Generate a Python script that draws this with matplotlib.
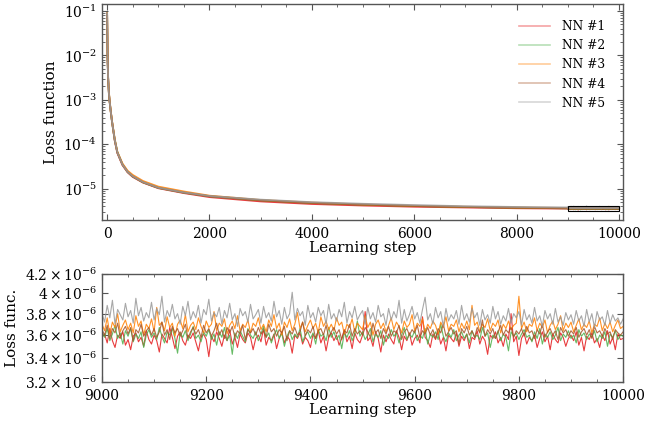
import matplotlib
matplotlib.use("Agg")
import matplotlib.pyplot as plt
import numpy as np
from matplotlib.patches import Rectangle
from matplotlib.ticker import MultipleLocator, NullLocator, LogLocator

plt.rcParams["font.family"] = ["DejaVu Serif"]
plt.rcParams["mathtext.fontset"] = "dejavuserif"

labels = ["NN #1", "NN #2", "NN #3", "NN #4", "NN #5"]
colors = ["#e41a1c", "#4daf4a", "#ff7f00", "#a65628", "#999999"]

# early training
early_steps = [0, 5, 10, 20, 35, 50, 75, 100, 150, 200, 300, 400, 500, 700,
               1000, 1500, 2000, 3000, 4000, 5000, 6000, 7000, 8000]
early_loss = [
    [0.085, 0.02, 0.008, 0.003, 0.0014, 0.0009, 0.0005, 0.0003, 1.2e-4, 6.4e-5, 3.4e-5,
     2.35e-5, 1.85e-5, 1.38e-5, 1.03e-5, 8.0e-6, 6.5e-6, 5.2e-6, 4.55e-6, 4.2e-6, 3.95e-6,
     3.8e-6, 3.65e-6],
    [0.088, 0.021, 0.008, 0.003, 0.0014, 0.0009, 0.0005, 0.0003, 1.25e-4, 6.7e-5, 3.55e-5,
     2.4e-5, 1.9e-5, 1.4e-5, 1.05e-5, 8.2e-6, 6.8e-6, 5.5e-6, 4.8e-6, 4.4e-6, 4.1e-6,
     3.9e-6, 3.75e-6],
    [0.09, 0.022, 0.0085, 0.0032, 0.0015, 0.00095, 0.00052, 0.00031, 1.3e-4, 6.8e-5, 3.7e-5,
     2.55e-5, 2.05e-5, 1.5e-5, 1.12e-5, 8.7e-6, 7.0e-6, 5.6e-6, 4.9e-6, 4.45e-6, 4.15e-6,
     3.95e-6, 3.8e-6],
    [0.087, 0.021, 0.008, 0.003, 0.0014, 0.0009, 0.0005, 0.0003, 1.22e-4, 6.5e-5, 3.5e-5,
     2.4e-5, 1.9e-5, 1.4e-5, 1.05e-5, 8.2e-6, 6.8e-6, 5.5e-6, 4.8e-6, 4.4e-6, 4.1e-6,
     3.9e-6, 3.75e-6],
    [0.089, 0.021, 0.0082, 0.0031, 0.00145, 0.00092, 0.00051, 0.0003, 1.25e-4, 6.6e-5, 3.5e-5,
     2.42e-5, 1.92e-5, 1.42e-5, 1.06e-5, 8.3e-6, 6.9e-6, 5.7e-6, 5.0e-6, 4.6e-6, 4.3e-6,
     4.05e-6, 3.9e-6],
]

# last 1000 steps, every 5 steps, in units of 1e-6
tail_steps = list(range(9000, 10001, 5))
tail_nn1 = [
    3.58, 3.61, 3.53, 3.66, 3.55, 3.49, 3.60, 3.57, 3.63, 3.51, 3.56, 3.47, 3.59, 3.62, 3.54, 3.58, 3.50, 3.64, 3.56, 3.52,
    3.60, 3.55, 3.45, 3.61, 3.57, 3.53, 3.67, 3.58, 3.48, 3.59, 3.63, 3.55, 3.51, 3.60, 3.57, 3.62, 3.54, 3.46, 3.58, 3.61,
    3.56, 3.41, 3.59, 3.54, 3.63, 3.57, 3.50, 3.60, 3.55, 3.65, 3.52, 3.58, 3.49, 3.61, 3.56, 3.53, 3.62, 3.58, 3.47, 3.57,
    3.60, 3.54, 3.66, 3.51, 3.58, 3.55, 3.61, 3.48, 3.57, 3.63, 3.53, 3.59, 3.56, 3.44, 3.60, 3.57, 3.62, 3.52, 3.58, 3.55,
    3.49, 3.61, 3.57, 3.64, 3.53, 3.59, 3.46, 3.58, 3.62, 3.55, 3.60, 3.51, 3.57, 3.65, 3.54, 3.59, 3.48, 3.62, 3.56, 3.53,
    3.60, 3.82, 3.55, 3.58, 3.50, 3.63, 3.57, 3.45, 3.60, 3.54, 3.61, 3.56, 3.52, 3.64, 3.58, 3.47, 3.59, 3.55, 3.62, 3.51,
    3.57, 3.60, 3.53, 3.77, 3.58, 3.55, 3.49, 3.61, 3.56, 3.63, 3.52, 3.58, 3.46, 3.60, 3.57, 3.54, 3.62, 3.50, 3.59, 3.55,
    3.61, 3.48, 3.58, 3.56, 3.64, 3.52, 3.59, 3.55, 3.43, 3.60, 3.57, 3.63, 3.53, 3.58, 3.50, 3.61, 3.56, 3.80, 3.54, 3.59,
    3.42, 3.57, 3.62, 3.52, 3.58, 3.55, 3.60, 3.49, 3.57, 3.63, 3.54, 3.59, 3.47, 3.61, 3.56, 3.53, 3.62, 3.58, 3.50, 3.57,
    3.60, 3.55, 3.63, 3.51, 3.58, 3.46, 3.59, 3.56, 3.62, 3.53, 3.57, 3.49, 3.60, 3.55, 3.64, 3.52, 3.58, 3.47, 3.61, 3.56,
    3.57,
]
tail_nn2 = [
    3.63, 3.58, 3.66, 3.55, 3.61, 3.69, 3.57, 3.62, 3.52, 3.64, 3.59, 3.66, 3.54, 3.61, 3.57, 3.63, 3.49, 3.60, 3.65, 3.58,
    3.62, 3.56, 3.67, 3.59, 3.53, 3.63, 3.60, 3.66, 3.57, 3.44, 3.62, 3.58, 3.64, 3.55, 3.61, 3.68, 3.57, 3.60, 3.54, 3.63,
    3.59, 3.65, 3.56, 3.61, 3.51, 3.63, 3.58, 3.67, 3.55, 3.60, 3.43, 3.62, 3.57, 3.64, 3.59, 3.54, 3.66, 3.60, 3.57, 3.63,
    3.55, 3.61, 3.68, 3.58, 3.62, 3.53, 3.60, 3.65, 3.57, 3.62, 3.50, 3.59, 3.64, 3.56, 3.61, 3.58, 3.66, 3.54, 3.60, 3.63,
    3.57, 3.62, 3.52, 3.65, 3.59, 3.61, 3.55, 3.67, 3.58, 3.63, 3.56, 3.60, 3.48, 3.62, 3.58, 3.64, 3.55, 3.61, 3.73, 3.59,
    3.63, 3.56, 3.60, 3.66, 3.54, 3.61, 3.58, 3.64, 3.51, 3.60, 3.57, 3.65, 3.59, 3.62, 3.53, 3.60, 3.67, 3.56, 3.61, 3.58,
    3.64, 3.55, 3.60, 3.57, 3.66, 3.52, 3.61, 3.58, 3.63, 3.56, 3.70, 3.59, 3.54, 3.62, 3.58, 3.65, 3.55, 3.60, 3.63, 3.57,
    3.61, 3.53, 3.64, 3.58, 3.60, 3.56, 3.67, 3.59, 3.62, 3.49, 3.60, 3.57, 3.64, 3.55, 3.61, 3.58, 3.46, 3.63, 3.59, 3.62,
    3.56, 3.61, 3.65, 3.58, 3.60, 3.54, 3.63, 3.57, 3.66, 3.52, 3.61, 3.58, 3.63, 3.56, 3.60, 3.67, 3.55, 3.61, 3.58, 3.64,
    3.57, 3.60, 3.53, 3.65, 3.59, 3.62, 3.56, 3.61, 3.58, 3.64, 3.54, 3.60, 3.57, 3.63, 3.50, 3.61, 3.58, 3.64, 3.56, 3.60,
    3.59,
]
tail_nn3 = [
    3.70, 3.64, 3.76, 3.61, 3.72, 3.67, 3.80, 3.63, 3.69, 3.74, 3.65, 3.71, 3.62, 3.78, 3.68, 3.73, 3.60, 3.70, 3.66, 3.75,
    3.63, 3.86, 3.69, 3.72, 3.64, 3.77, 3.67, 3.71, 3.59, 3.70, 3.74, 3.66, 3.79, 3.63, 3.69, 3.72, 3.65, 3.76, 3.68, 3.62,
    3.73, 3.67, 3.70, 3.82, 3.64, 3.71, 3.68, 3.75, 3.61, 3.69, 3.73, 3.66, 3.78, 3.64, 3.70, 3.67, 3.74, 3.62, 3.71, 3.68,
    3.76, 3.65, 3.70, 3.63, 3.74, 3.68, 3.79, 3.66, 3.71, 3.60, 3.72, 3.67, 3.75, 3.64, 3.70, 3.81, 3.66, 3.72, 3.63, 3.69,
    3.74, 3.66, 3.71, 3.62, 3.77, 3.68, 3.73, 3.65, 3.70, 3.64, 3.76, 3.69, 3.72, 3.61, 3.70, 3.67, 3.75, 3.63, 3.71, 3.68,
    3.65, 3.78, 3.67, 3.72, 3.60, 3.70, 3.74, 3.66, 3.71, 3.63, 3.69, 3.76, 3.65, 3.72, 3.68, 3.62, 3.73, 3.67, 3.70, 3.79,
    3.64, 3.71, 3.68, 3.75, 3.62, 3.70, 3.66, 3.73, 3.69, 3.61, 3.72, 3.67, 3.77, 3.64, 3.70, 3.68, 3.74, 3.63, 3.71, 3.66,
    3.73, 3.65, 3.88, 3.69, 3.72, 3.63, 3.70, 3.67, 3.75, 3.64, 3.71, 3.68, 3.74, 3.62, 3.70, 3.66, 3.73, 3.65, 3.69, 3.71,
    3.97, 3.66, 3.72, 3.63, 3.70, 3.68, 3.76, 3.64, 3.71, 3.67, 3.74, 3.62, 3.69, 3.73, 3.65, 3.70, 3.78, 3.64, 3.71, 3.67,
    3.72, 3.63, 3.69, 3.75, 3.65, 3.70, 3.67, 3.73, 3.62, 3.70, 3.68, 3.76, 3.64, 3.71, 3.66, 3.72, 3.63, 3.69, 3.74, 3.66,
    3.68,
]
tail_nn4 = [
    3.65, 3.60, 3.69, 3.57, 3.66, 3.62, 3.71, 3.58, 3.64, 3.68, 3.61, 3.67, 3.55, 3.65, 3.62, 3.70, 3.59, 3.64, 3.67, 3.60,
    3.66, 3.58, 3.63, 3.72, 3.60, 3.65, 3.56, 3.68, 3.62, 3.66, 3.59, 3.64, 3.70, 3.57, 3.63, 3.67, 3.61, 3.65, 3.58, 3.69,
    3.62, 3.66, 3.59, 3.64, 3.71, 3.60, 3.65, 3.57, 3.67, 3.62, 3.68, 3.58, 3.64, 3.61, 3.69, 3.56, 3.65, 3.62, 3.66, 3.60,
    3.67, 3.61, 3.64, 3.58, 3.70, 3.63, 3.66, 3.59, 3.65, 3.62, 3.68, 3.55, 3.64, 3.61, 3.67, 3.60, 3.63, 3.72, 3.59, 3.65,
    3.62, 3.68, 3.57, 3.64, 3.66, 3.60, 3.69, 3.58, 3.63, 3.67, 3.61, 3.65, 3.56, 3.64, 3.62, 3.70, 3.59, 3.66, 3.61, 3.64,
    3.60, 3.67, 3.63, 3.58, 3.71, 3.62, 3.65, 3.57, 3.66, 3.61, 3.68, 3.59, 3.64, 3.62, 3.69, 3.56, 3.63, 3.66, 3.60, 3.65,
    3.62, 3.69, 3.58, 3.64, 3.61, 3.67, 3.60, 3.65, 3.57, 3.66, 3.62, 3.70, 3.59, 3.63, 3.67, 3.61, 3.64, 3.52, 3.66, 3.62,
    3.68, 3.60, 3.64, 3.58, 3.67, 3.62, 3.74, 3.59, 3.65, 3.61, 3.66, 3.57, 3.63, 3.69, 3.60, 3.65, 3.62, 3.67, 3.58, 3.64,
    3.61, 3.66, 3.59, 3.68, 3.62, 3.64, 3.57, 3.65, 3.61, 3.70, 3.58, 3.63, 3.66, 3.60, 3.64, 3.56, 3.67, 3.62, 3.65, 3.59,
    3.64, 3.61, 3.67, 3.58, 3.63, 3.66, 3.60, 3.65, 3.57, 3.68, 3.62, 3.64, 3.59, 3.66, 3.61, 3.63, 3.56, 3.65, 3.62, 3.60,
    3.63,
]
tail_nn5 = [
    3.80, 3.72, 3.88, 3.76, 3.93, 3.70, 3.84, 3.79, 3.74, 3.90, 3.77, 3.83, 3.71, 3.95, 3.78, 3.86, 3.73, 3.81, 3.76, 3.91,
    3.74, 3.85, 3.79, 3.97, 3.72, 3.83, 3.77, 3.89, 3.75, 3.80, 3.70, 3.87, 3.78, 3.92, 3.74, 3.82, 3.76, 3.88, 3.71, 3.84,
    3.79, 3.94, 3.73, 3.81, 3.77, 3.86, 3.70, 3.83, 3.76, 3.90, 3.74, 3.80, 3.68, 3.85, 3.78, 3.82, 3.72, 3.89, 3.75, 3.79,
    3.84, 3.71, 3.87, 3.76, 3.81, 3.73, 3.92, 3.77, 3.83, 3.70, 3.86, 3.75, 3.80, 4.01, 3.74, 3.85, 3.78, 3.82, 3.69, 3.88,
    3.76, 3.81, 3.72, 3.86, 3.78, 3.83, 3.70, 3.89, 3.75, 3.80, 3.73, 3.84, 3.77, 3.91, 3.71, 3.82, 3.76, 3.87, 3.74, 3.79,
    3.83, 3.70, 3.86, 3.75, 3.81, 3.72, 3.88, 3.77, 3.80, 3.69, 3.85, 3.74, 3.82, 3.76, 3.93, 3.71, 3.84, 3.73, 3.79, 3.87,
    3.75, 3.81, 3.71, 3.84, 3.96, 3.74, 3.80, 3.70, 3.86, 3.76, 3.82, 3.68, 3.85, 3.73, 3.79, 3.75, 3.83, 3.70, 3.88, 3.74,
    3.80, 3.72, 3.85, 3.76, 3.81, 3.69, 3.84, 3.74, 3.79, 3.71, 3.87, 3.75, 3.82, 3.70, 3.78, 3.73, 3.85, 3.71, 3.80, 3.76,
    3.82, 3.69, 3.84, 3.74, 3.79, 3.71, 3.86, 3.73, 3.78, 3.68, 3.83, 3.75, 3.80, 3.70, 3.85, 3.72, 3.77, 3.69, 3.81, 3.74,
    3.79, 3.70, 3.83, 3.73, 3.78, 3.68, 3.84, 3.72, 3.80, 3.67, 3.82, 3.74, 3.77, 3.69, 3.83, 3.71, 3.79, 3.73, 3.76, 3.70,
    3.75,
]
tails = [tail_nn1, tail_nn2, tail_nn3, tail_nn4, tail_nn5]

zoom_ticks = [3.2e-6, 3.4e-6, 3.6e-6, 3.8e-6, 4.0e-6, 4.2e-6]
zoom_tick_labels = [r"$3.2\times10^{-6}$", r"$3.4\times10^{-6}$", r"$3.6\times10^{-6}$",
                    r"$3.8\times10^{-6}$", r"$4\times10^{-6}$", r"$4.2\times10^{-6}$"]


def style_axes(ax):
    for s in ax.spines.values():
        s.set_color("#555555")
        s.set_linewidth(1.0)
    ax.tick_params(which="both", direction="in", top=True, right=True,
                   colors="#555555", labelcolor="black", labelsize=10)
    ax.tick_params(which="major", length=4)
    ax.tick_params(which="minor", length=2)
    ax.tick_params(axis="x", pad=5)


fig = plt.figure(figsize=(6.58, 4.22), dpi=100)
ax1 = fig.add_axes([0.155, 0.479, 0.792, 0.512])
ax2 = fig.add_axes([0.155, 0.095, 0.792, 0.256])

for i in range(5):
    tail = np.array(tails[i]) * 1e-6
    x = np.concatenate([early_steps, tail_steps])
    y = np.concatenate([early_loss[i], tail])
    ax1.plot(x, y, color=colors[i], lw=1.3, alpha=0.85, label=labels[i])
    ax2.plot(tail_steps, tail, color=colors[i], lw=0.8, alpha=0.85)

ax1.add_patch(Rectangle((9000, 3.2e-6), 1000, 1.0e-6, fill=False,
                        edgecolor="black", lw=0.8, zorder=5))

ax1.set_yscale("log")
ax1.set_xlim(-100, 10080)
ax1.set_ylim(2e-6, 0.145)
ax1.xaxis.set_major_locator(MultipleLocator(2000))
ax1.xaxis.set_minor_locator(MultipleLocator(500))
ax1.yaxis.set_major_locator(LogLocator(base=10, numticks=10))
ax1.yaxis.set_minor_locator(LogLocator(base=10, subs=np.arange(2, 10), numticks=10))
ax1.set_xlabel("Learning step", fontsize=11, labelpad=0)
ax1.set_ylabel("Loss function", fontsize=11)
style_axes(ax1)

leg = ax1.legend(loc="upper right", bbox_to_anchor=(0.987, 0.975), frameon=False,
                 fontsize=8.8, handlelength=2.5, handletextpad=1.0, labelspacing=0.5)
for h in leg.get_lines():
    h.set_alpha(0.4)
    h.set_linewidth(1.2)

ax2.set_yscale("log")
ax2.set_xlim(9000, 10000)
ax2.set_ylim(3.2e-6, 4.2e-6)
ax2.set_yticks(zoom_ticks, zoom_tick_labels)
ax2.yaxis.set_minor_locator(NullLocator())
ax2.xaxis.set_major_locator(MultipleLocator(200))
ax2.xaxis.set_minor_locator(MultipleLocator(50))
ax2.set_xlabel("Learning step", fontsize=11, labelpad=0)
ax2.set_ylabel("Loss func.", fontsize=11)
style_axes(ax2)

fig.savefig("out.png", dpi=100)
